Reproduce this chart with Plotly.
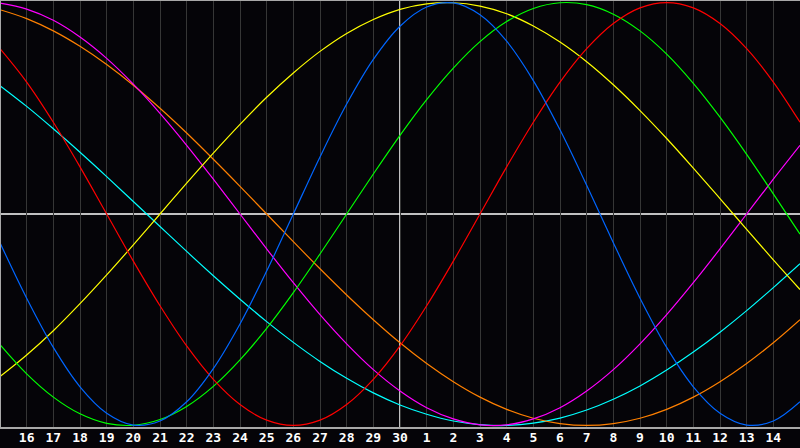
import plotly.graph_objects as go

# day labels, one per day across the window (first and last are unlabeled edges)
days = ["15", "16", "17", "18", "19", "20", "21", "22", "23", "24", "25", "26",
        "27", "28", "29", "30", "1", "2", "3", "4", "5", "6", "7", "8", "9",
        "10", "11", "12", "13", "14", "15"]

# cycle values, one per day
physical = [-0.136, -0.398, -0.631, -0.817, -0.942, -0.998, -0.979, -0.888, -0.731, -0.520,
            -0.270, 0.0, 0.270, 0.520, 0.731, 0.888, 0.979, 0.998, 0.942, 0.817,
            0.631, 0.398, 0.136, -0.136, -0.398, -0.631, -0.817, -0.942, -0.998, -0.979, -0.888]
emotional = [0.782, 0.624, 0.434, 0.223, 0.0, -0.223, -0.434, -0.624, -0.782, -0.901,
             -0.975, -1.0, -0.975, -0.901, -0.782, -0.624, -0.434, -0.223, 0.0, 0.223,
             0.434, 0.624, 0.782, 0.901, 0.975, 1.0, 0.975, 0.901, 0.782, 0.624, 0.434]
intellectual = [-0.618, -0.756, -0.866, -0.945, -0.990, -0.999, -0.972, -0.910, -0.815, -0.690,
                -0.541, -0.372, -0.189, 0.0, 0.189, 0.372, 0.541, 0.690, 0.815, 0.910,
                0.972, 0.999, 0.990, 0.945, 0.866, 0.756, 0.618, 0.458, 0.282, 0.095, -0.095]
intuitive = [0.997, 0.969, 0.916, 0.837, 0.736, 0.614, 0.476, 0.325, 0.165, 0.0,
             -0.165, -0.325, -0.476, -0.614, -0.736, -0.837, -0.916, -0.969, -0.997, -0.997,
             -0.969, -0.916, -0.837, -0.736, -0.614, -0.476, -0.325, -0.165, 0.0, 0.165, 0.325]
aesthetic = [-0.769, -0.667, -0.552, -0.424, -0.288, -0.146, 0.0, 0.146, 0.288, 0.424,
             0.552, 0.667, 0.769, 0.854, 0.920, 0.968, 0.994, 0.999, 0.983, 0.947,
             0.889, 0.813, 0.720, 0.611, 0.489, 0.357, 0.217, 0.073, -0.073, -0.217, -0.357]
awareness = [0.966, 0.924, 0.866, 0.793, 0.707, 0.609, 0.5, 0.383, 0.259, 0.131,
             0.0, -0.131, -0.259, -0.383, -0.5, -0.609, -0.707, -0.793, -0.866, -0.924,
             -0.966, -0.991, -1.0, -0.991, -0.966, -0.924, -0.866, -0.793, -0.707, -0.609, -0.5]
spiritual = [0.607, 0.509, 0.403, 0.292, 0.177, 0.059, -0.059, -0.177, -0.292, -0.403,
             -0.509, -0.607, -0.697, -0.777, -0.846, -0.903, -0.947, -0.979, -0.996, -1.0,
             -0.989, -0.965, -0.927, -0.876, -0.813, -0.738, -0.653, -0.559, -0.457, -0.348, -0.235]

series = [
    ("Spiritual", spiritual, "#00ffff"),
    ("Awareness", awareness, "#ff8000"),
    ("Intuitive", intuitive, "#ff00ff"),
    ("Aesthetic", aesthetic, "#ffff00"),
    ("Intellectual", intellectual, "#00ff00"),
    ("Emotional", emotional, "#ff0000"),
    ("Physical", physical, "#0066ff"),
]

xs = list(range(len(days)))
mid = days.index("30")

fig = go.Figure()
for name, vals, col in series:
    fig.add_trace(go.Scatter(x=xs, y=vals, name=name, mode="lines",
                             line=dict(color=col, width=1.2, shape="spline", smoothing=1.0),
                             hoverinfo="skip"))

# white crosshair through the middle of the window
fig.add_shape(type="line", xref="x", yref="paper", x0=mid, x1=mid, y0=0, y1=1,
              line=dict(color="white", width=1.5), layer="below")
fig.add_shape(type="line", xref="paper", yref="y", x0=0, x1=1, y0=0, y1=0,
              line=dict(color="white", width=1.5), layer="below")
# grey frame on left, top and bottom
for x0, y0, x1, y1 in [(0, 0, 0, 1), (0, 1, 1, 1), (0, 0, 1, 0)]:
    fig.add_shape(type="line", xref="paper", yref="paper", x0=x0, y0=y0, x1=x1, y1=y1,
                  line=dict(color="#a8a8a8", width=2))

fig.update_layout(
    width=800, height=448,
    margin=dict(l=0, r=0, t=0, b=20),
    paper_bgcolor="#050408", plot_bgcolor="#050408",
    showlegend=False,
)
fig.update_xaxes(range=[0, len(days) - 1], tickvals=xs[1:-1], ticktext=days[1:-1],
                 showgrid=True, gridcolor="#363636", gridwidth=1, zeroline=False,
                 ticks="", tickfont=dict(family="DejaVu Sans Mono", size=13, color="white", weight="bold"))
fig.update_yaxes(range=[-1.012, 1.012], showgrid=False, zeroline=False, showticklabels=False)

# drop the browser's default page margin so the chart fills the window
fig.write_html("out.html", config={"displayModeBar": False},
               post_script="document.body.style.margin='0';document.body.style.background='#050408';")
